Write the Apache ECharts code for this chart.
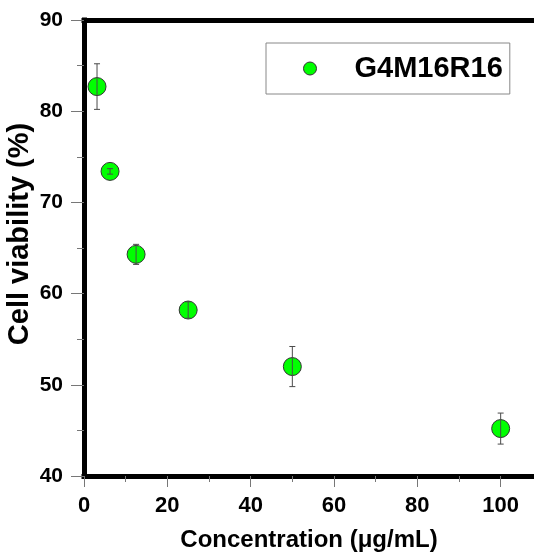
<!DOCTYPE html>
<html>
<head>
<meta charset="utf-8">
<script src="https://cdn.jsdelivr.net/npm/echarts@6/dist/echarts.min.js"></script>
<style>
  html, body { margin: 0; padding: 0; background: #fff; }
  #chart { width: 534px; height: 553px; }
</style>
</head>
<body>
<div id="chart"></div>
<script>
// concentration in ug/mL, viability in %
var concentration = [3.125, 6.25, 12.5, 25, 50, 100];
var viability = [82.7, 73.4, 64.3, 58.2, 52.0, 45.2];
var viabilityErr = [2.5, 0.3, 1.1, 0.9, 2.2, 1.7];
var seriesName = 'G4M16R16';

var FONT = 'Arial, "Liberation Sans", sans-serif';

var points = concentration.map(function (c, i) { return [c, viability[i]]; });
var errData = concentration.map(function (c, i) { return [c, viability[i], viabilityErr[i]]; });

var myChart = echarts.init(document.getElementById('chart'));

function renderErr(params, api) {
  var x = api.value(0), y = api.value(1), e = api.value(2);
  var top = api.coord([x, y + e]);
  var bot = api.coord([x, y - e]);
  var cap = 3;
  var style = { stroke: '#4a4a4a', lineWidth: 1 };
  return {
    type: 'group',
    children: [
      { type: 'line', shape: { x1: top[0], y1: top[1], x2: bot[0], y2: bot[1] }, style: style },
      { type: 'line', shape: { x1: top[0] - cap, y1: top[1], x2: top[0] + cap, y2: top[1] }, style: style },
      { type: 'line', shape: { x1: bot[0] - cap, y1: bot[1], x2: bot[0] + cap, y2: bot[1] }, style: style }
    ]
  };
}

var option = {
  animation: false,
  grid: { left: 84, right: 0, top: 20, bottom: 77, outerBoundsMode: 'none', containLabel: false },
  legend: {
    data: [{ name: seriesName, itemStyle: { borderColor: '#333', borderWidth: 1 } }],
    left: 266,
    top: 43,
    padding: [11, 7, 11, 37],
    itemWidth: 13,
    itemHeight: 13,
    backgroundColor: '#fff',
    borderColor: '#888',
    borderWidth: 1,
    borderRadius: 0,
    textStyle: { fontFamily: FONT, fontWeight: 'bold', fontSize: 29, color: '#000', padding: [0, 0, 0, 33] }
  },
  xAxis: [
    {
      type: 'value',
      min: 0,
      max: 108,
      interval: 20,
      name: 'Concentration (\u03bcg/mL)',
      nameLocation: 'middle',
      nameGap: 52,
      nameMoveOverlap: false,
      nameTextStyle: { fontFamily: FONT, fontWeight: 'bold', fontSize: 24, color: '#000' },
      axisLine: { lineStyle: { color: '#000', width: 5, cap: 'square' } },
      axisTick: { show: true, length: 11, lineStyle: { color: '#777', width: 1 } },
      minorTick: { show: true, splitNumber: 2, length: 6, lineStyle: { color: '#777', width: 1 } },
      axisLabel: { margin: 19, showMaxLabel: false, fontFamily: FONT, fontWeight: 'bold', fontSize: 22, color: '#000' },
      splitLine: { show: false }
    },
    {
      type: 'value',
      position: 'top',
      min: 0,
      max: 108,
      axisLine: { show: true, lineStyle: { color: '#000', width: 5, cap: 'square' } },
      axisTick: { show: false },
      axisLabel: { show: false },
      splitLine: { show: false }
    }
  ],
  yAxis: {
    type: 'value',
    min: 40,
    max: 90,
    interval: 10,
    name: 'Cell viability (%)',
    nameLocation: 'middle',
    nameGap: 50,
    nameMoveOverlap: false,
    nameTextStyle: { fontFamily: FONT, fontWeight: 'bold', fontSize: 29, color: '#000', padding: [0, 0, 0, 28] },
    axisLine: { show: true, lineStyle: { color: '#000', width: 5, cap: 'square' } },
    axisTick: { show: true, length: 13, lineStyle: { color: '#777', width: 1 } },
    minorTick: { show: true, splitNumber: 2, length: 7, lineStyle: { color: '#777', width: 1 } },
    axisLabel: { margin: 21, fontFamily: FONT, fontWeight: 'bold', fontSize: 21, color: '#000' },
    splitLine: { show: false }
  },
  series: [
    {
      name: seriesName,
      type: 'scatter',
      symbol: 'circle',
      symbolSize: 18,
      data: points,
      itemStyle: { color: '#00ff00', borderColor: '#333', borderWidth: 1, opacity: 1 },
      z: 2
    },
    {
      name: 'err',
      type: 'custom',
      renderItem: renderErr,
      data: errData,
      encode: { x: 0, y: 1 },
      z: 3
    }
  ]
};

myChart.setOption(option);
</script>
</body>
</html>
